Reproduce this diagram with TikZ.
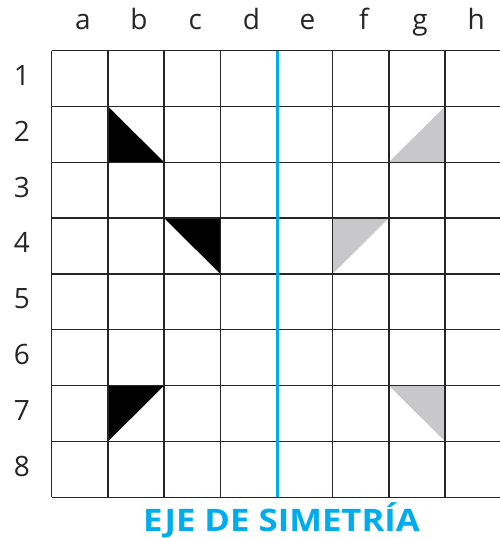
\documentclass[tikz,border=0pt]{standalone}
\usepackage{fontspec}
\setmainfont{Open Sans}
\definecolor{axisblue}{RGB}{0,172,236}
\definecolor{shadegray}{RGB}{200,200,202}
\begin{document}
\begin{tikzpicture}[x=1pt,y=-1pt,
  gridline/.style={line width=1.3pt,draw=black!85},
  axisline/.style={line width=3pt,draw=axisblue},
  lbl/.style={font=\fontsize{28}{30}\selectfont,text=black!85,inner sep=0pt,anchor=base},
  blacktri/.style={fill=black},
  graytri/.style={fill=shadegray}]
\useasboundingbox (0,0) rectangle (500,538);
\clip (0,0) rectangle (500,538);
% grid corner coordinates
\foreach \i in {0,...,8}{
  \foreach \j in {0,...,8}{
    \coordinate (p\i\j) at ({51.7+\i*56.2},{50.5+\j*55.85});
  }
}
% triangles
\fill[blacktri] (p11) -- (p12) -- (p22) -- cycle;
\fill[blacktri] (p23) -- (p33) -- (p34) -- cycle;
\fill[blacktri] (p16) -- (p26) -- (p17) -- cycle;
\fill[graytri] (p71) -- (p72) -- (p62) -- cycle;
\fill[graytri] (p53) -- (p63) -- (p54) -- cycle;
\fill[graytri] (p66) -- (p76) -- (p77) -- cycle;
% grid
\foreach \j in {0,...,8}{
  \draw[gridline] (p0\j) -- ([xshift=10pt]p8\j);
}
\foreach \i in {0,1,2,3,5,6,7}{
  \draw[gridline] (p\i0) -- (p\i8);
}
\draw[axisline] ([xshift=1pt]p40) -- ([xshift=1pt]p48);
% column labels
\foreach \l [count=\k from 0] in {a,b,c,d,e,f,g,h}{
  \node[lbl] (col\l) at ({51.7+\k*56.2+28.1+3},29.5) {\l};
}
% row labels
\foreach \r in {1,...,8}{
  \node[lbl] (row\r) at (22,{50.5+(\r-0.5)*55.85+7}) {\r};
}
% axis caption
\node[font=\fontsize{31}{33}\selectfont\bfseries,text=axisblue,inner sep=0pt,anchor=base,xscale=1.12] (caption) at (281.5,531.5) {EJE DE SIMETRÍA};
\end{tikzpicture}
\end{document}
